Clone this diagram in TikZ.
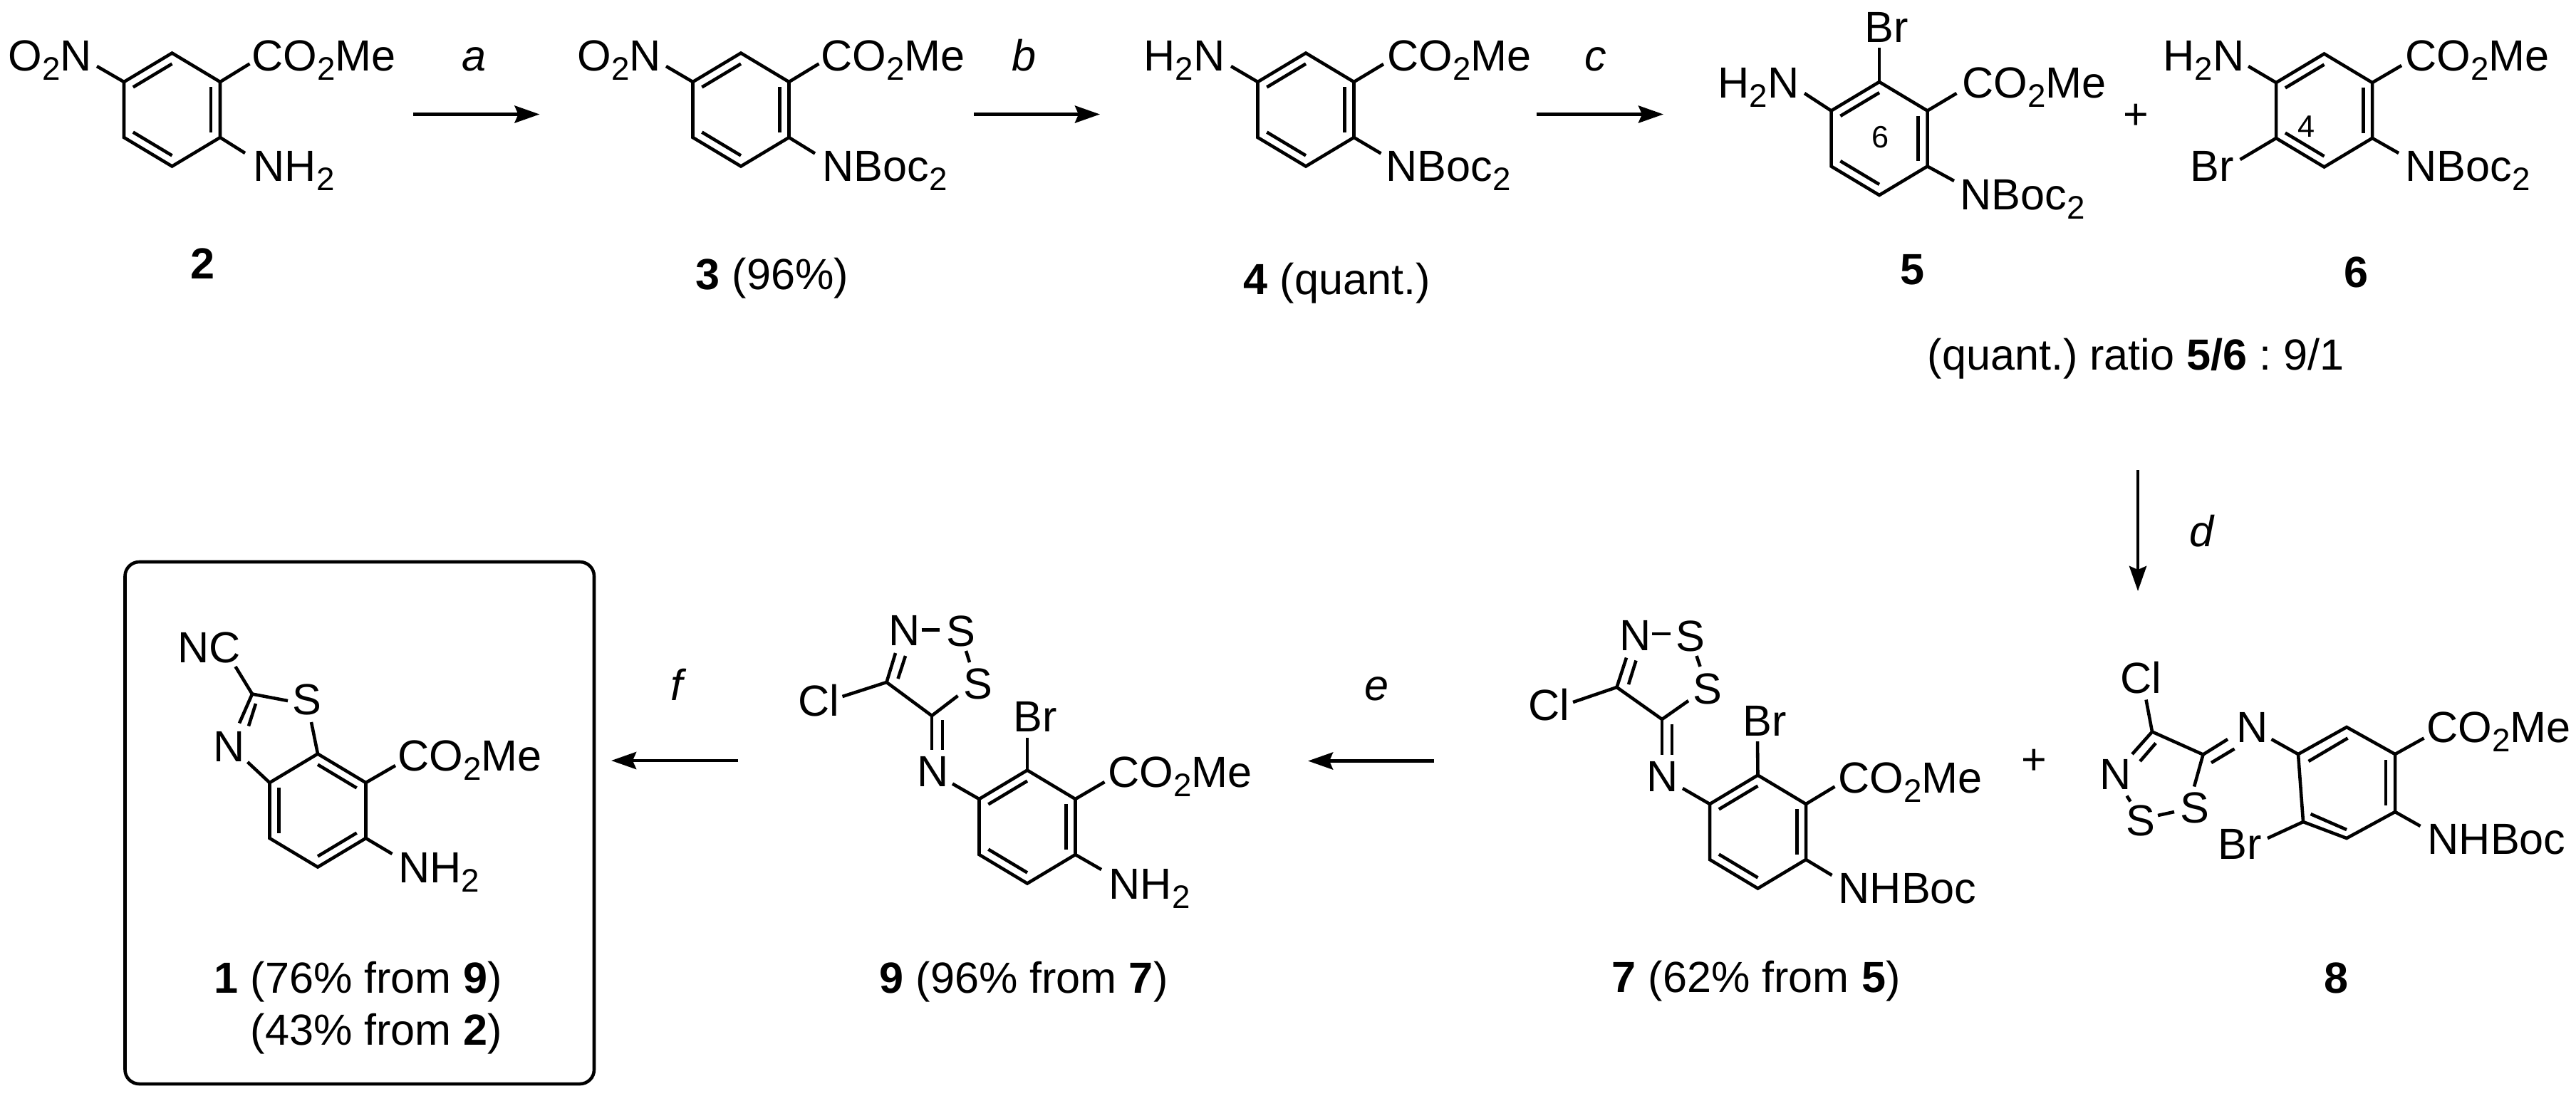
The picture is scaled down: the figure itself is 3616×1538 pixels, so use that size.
\documentclass[tikz,border=0pt]{standalone}
\usepackage{fontspec}
\setmainfont{Liberation Sans}
\usetikzlibrary{calc,arrows.meta}
\frenchspacing

\newcommand{\dn}[1]{\raisebox{-3.7pt}{\fontsize{13}{13}\selectfont #1}}
\tikzset{
    bond/.style={line width=1.3pt},
    atom/.style={anchor=base west,inner sep=0pt,font=\fontsize{17.4}{21}\selectfont},
    tag/.style={inner sep=0pt,font=\fontsize{12.3}{14}\selectfont},
    reacarrow/.style={line width=1.35pt,-{Stealth[length=.35cm,width=.24cm,inset=.05cm]}},
    frame/.style={line width=1.3pt,rounded corners=.2cm},
}
% ring corners r?t r?ur r?lr r?b r?ll r?ul around the centre r?c
\newcommand{\benzene}[2]{
    \coordinate (#1c) at (#2);
    \coordinate (#1t) at ($(#2)+(0,-79.5)$);
    \coordinate (#1ur) at ($(#2)+(67.5,-39)$);
    \coordinate (#1lr) at ($(#2)+(67.5,39)$);
    \coordinate (#1b) at ($(#2)+(0,79.5)$);
    \coordinate (#1ll) at ($(#2)+(-67.5,39)$);
    \coordinate (#1ul) at ($(#2)+(-67.5,-39)$);
    \draw[bond] (#1t) -- (#1ur) -- (#1lr) -- (#1b) -- (#1ll) -- (#1ul) -- cycle;
}
\newcommand{\dbl}[3]{\draw[bond] ($(#1#2)!.19!(#1c)$) -- ($(#1#3)!.19!(#1c)$);}
\newcommand{\kekule}[1]{\dbl{#1}{ul}{t} \dbl{#1}{ur}{lr} \dbl{#1}{ll}{b}}

\begin{document}
\begin{tikzpicture}[x=.01cm,y=-.01cm]
    \useasboundingbox (0,0) rectangle (3616,1538);

    % compound 2
    \benzene{rb}{241.5,154} \kekule{rb}
    \node[atom] (nitroB) at (11,99) {O\dn{2}N};
    \node[atom] (esterB) at (353,99) {CO\dn{2}Me};
    \node[atom] (amineB) at (355,254) {NH\dn{2}};
    \node[atom] (nameB) at (267,391) {\textbf{2}};
    \coordinate (eb1) at (136,93); \draw[bond] (rbul) -- (eb1);
    \coordinate (eb2) at (350.5,89.5); \draw[bond] (rbur) -- (eb2);
    \coordinate (eb3) at (344,215); \draw[bond] (rblr) -- (eb3);

    % compound 3
    \benzene{rc}{1040,154} \kekule{rc}
    \node[atom] (nitroC) at (810,99) {O\dn{2}N};
    \node[atom] (esterC) at (1152,99) {CO\dn{2}Me};
    \node[atom] (bocC) at (1154,254) {NBoc\dn{2}};
    \node[atom] (nameC) at (976,406) {\textbf{3} (96\%)};
    \coordinate (ec1) at (935,93); \draw[bond] (rcul) -- (ec1);
    \coordinate (ec2) at (1149.5,89.5); \draw[bond] (rcur) -- (ec2);
    \coordinate (ec3) at (1144,215.5); \draw[bond] (rclr) -- (ec3);

    % compound 4
    \benzene{rd}{1833,154} \kekule{rd}
    \node[atom] (amineD) at (1605,99) {H\dn{2}N};
    \node[atom] (esterD) at (1947,99) {CO\dn{2}Me};
    \node[atom] (bocD) at (1945,254) {NBoc\dn{2}};
    \node[atom] (nameD) at (1745,413) {\textbf{4} (quant.)};
    \coordinate (ed1) at (1728,93); \draw[bond] (rdul) -- (ed1);
    \coordinate (ed2) at (1942,90); \draw[bond] (rdur) -- (ed2);
    \coordinate (ed3) at (1938.5,215.5); \draw[bond] (rdlr) -- (ed3);

    % compound 5
    \benzene{re}{2638,194.5} \kekule{re}
    \node[atom] (bromE) at (2617,59) {Br};
    \node[atom] (amineE) at (2411,137.5) {H\dn{2}N};
    \node[atom] (esterE) at (2754,137.5) {CO\dn{2}Me};
    \node[atom] (bocE) at (2751,294.5) {NBoc\dn{2}};
    \node[tag] (sixE) at (2639,193) {6};
    \node[atom] (nameE) at (2667,399) {\textbf{5}};
    \coordinate (ee1) at (2638,67); \draw[bond] (ret) -- (ee1);
    \coordinate (ee2) at (2533,131); \draw[bond] (reul) -- (ee2);
    \coordinate (ee3) at (2746.5,131); \draw[bond] (reur) -- (ee3);
    \coordinate (ee4) at (2743,254); \draw[bond] (relr) -- (ee4);

    \node[atom] (plusA) at (2980,181) {+};

    % compound 6
    \benzene{rf}{3262.5,155} \kekule{rf}
    \node[atom] (amineF) at (3036,99) {H\dn{2}N};
    \node[atom] (esterF) at (3375.5,99) {CO\dn{2}Me};
    \node[atom] (bromF) at (3074,254.5) {Br};
    \node[atom] (bocF) at (3376,254.5) {NBoc\dn{2}};
    \node[tag] (fourF) at (3237.5,177.5) {4};
    \node[atom] (nameF) at (3290,403.5) {\textbf{6}};
    \coordinate (ef1) at (3156,93); \draw[bond] (rful) -- (ef1);
    \coordinate (ef2) at (3371,92); \draw[bond] (rfur) -- (ef2);
    \coordinate (ef3) at (3144.5,224); \draw[bond] (rfll) -- (ef3);
    \coordinate (ef4) at (3367,215); \draw[bond] (rflr) -- (ef4);

    \node[atom] (ratio) at (2705,519.5) {(quant.) ratio \textbf{5/6} : 9/1};

    % compound 1 in its box
    \coordinate (boxnw) at (175.5,789);
    \coordinate (boxse) at (834,1522);
    \draw[frame] (boxnw) rectangle (boxse);
    \benzene{ra}{446,1138}
    \dbl{ra}{t}{ur} \dbl{ra}{lr}{b} \dbl{ra}{ul}{ll}
    \node[atom] (cyanA) at (249,930) {NC};
    \node[atom] (sulfA) at (410,1003) {S};
    \node[atom] (nitrA) at (299,1069) {N};
    \node[atom] (esterA) at (558,1082.5) {CO\dn{2}Me};
    \node[atom] (amineA) at (558.5,1239) {NH\dn{2}};
    \node[atom] (nameA) at (300,1394) {\textbf{1} (76\% from \textbf{9})};
    \node[atom] (yieldA) at (351,1467) {(43\% from \textbf{2})};
    \coordinate (ca) at (354,974.5); % carbon between N and S
    \coordinate (ea1) at (330.5,936); \draw[bond] (ca) -- (ea1);
    \coordinate (ea2) at (404,984); \draw[bond] (ca) -- (ea2);
    \coordinate (ea3) at (336,1015.5); \draw[bond] (ca) -- (ea3);
    \coordinate (ea4) at (359,988); \coordinate (ea5) at (349,1019.5); \draw[bond] (ea4) -- (ea5);
    \coordinate (ea6) at (437,1014); \draw[bond] (ea6) -- (rat);
    \coordinate (ea7) at (347.5,1070); \draw[bond] (ea7) -- (raul);
    \coordinate (ea8) at (555,1075); \draw[bond] (raur) -- (ea8);
    \coordinate (ea9) at (550.5,1199); \draw[bond] (ralr) -- (ea9);

    % compound 9
    \benzene{ri}{1442,1161} \kekule{ri}
    \node[atom] (nitrI) at (1247,906) {N};
    \node[atom] (sulfI) at (1328,907) {S};
    \node[atom] (sulgI) at (1352,981) {S};
    \node[atom] (chlorI) at (1120,1005) {Cl};
    \node[atom] (iminI) at (1287,1104.5) {N};
    \node[atom] (bromI) at (1422,1027) {Br};
    \node[atom] (esterI) at (1555,1105.5) {CO\dn{2}Me};
    \node[atom] (amineI) at (1556,1262) {NH\dn{2}};
    \node[atom] (nameI) at (1234,1394) {\textbf{9} (96\% from \textbf{7})};
    \coordinate (ci1) at (1244.5,958);
    \coordinate (ci2) at (1308,1005);
    \draw[bond] (ci1) -- (ci2);
    \coordinate (ei1) at (1182.5,978); \draw[bond] (ci1) -- (ei1);
    \coordinate (ei2) at (1257,917); \draw[bond] (ci1) -- (ei2);
    \coordinate (ei3) at (1260.5,953); \coordinate (ei4) at (1271,921); \draw[bond] (ei3) -- (ei4);
    \coordinate (ei5) at (1293.5,884.5); \coordinate (ei6) at (1319,884.5); \draw[bond] (ei5) -- (ei6);
    \coordinate (ei7) at (1356,914); \coordinate (ei8) at (1361,930); \draw[bond] (ei7) -- (ei8);
    \coordinate (ei9) at (1344.5,977); \draw[bond] (ei9) -- (ci2);
    \coordinate (ei10) at (1308,1053); \draw[bond] (ci2) -- (ei10);
    \coordinate (ei11) at (1323,1011); \coordinate (ei12) at (1323,1053); \draw[bond] (ei11) -- (ei12);
    \coordinate (ei13) at (1337,1100.5); \draw[bond] (ei13) -- (riul);
    \coordinate (ei14) at (1442,1035.5); \draw[bond] (rit) -- (ei14);
    \coordinate (ei15) at (1550.5,1098); \draw[bond] (riur) -- (ei15);
    \coordinate (ei16) at (1546,1221); \draw[bond] (rilr) -- (ei16);

    % compound 7
    \benzene{rg}{2467.5,1168} \kekule{rg}
    \node[atom] (nitrG) at (2273,913) {N};
    \node[atom] (sulfG) at (2352,914) {S};
    \node[atom] (sulgG) at (2376,988) {S};
    \node[atom] (chlorG) at (2145,1011.5) {Cl};
    \node[atom] (iminG) at (2311,1111.5) {N};
    \node[atom] (bromG) at (2446,1033) {Br};
    \node[atom] (esterG) at (2580,1113) {CO\dn{2}Me};
    \node[atom] (bocG) at (2580,1268) {NHBoc};
    \node[atom] (nameG) at (2262,1393.5) {\textbf{7} (62\% from \textbf{5})};
    \coordinate (cg1) at (2269.5,965);
    \coordinate (cg2) at (2333,1010);
    \draw[bond] (cg1) -- (cg2);
    \coordinate (eg1) at (2208,986); \draw[bond] (cg1) -- (eg1);
    \coordinate (eg2) at (2283,923.5); \draw[bond] (cg1) -- (eg2);
    \coordinate (eg3) at (2286,961); \coordinate (eg4) at (2296.5,927.5); \draw[bond] (eg3) -- (eg4);
    \coordinate (eg5) at (2319,890); \coordinate (eg6) at (2345,890); \draw[bond] (eg5) -- (eg6);
    \coordinate (eg7) at (2381.5,921); \coordinate (eg8) at (2386.5,936); \draw[bond] (eg7) -- (eg8);
    \coordinate (eg9) at (2370,984); \draw[bond] (eg9) -- (cg2);
    \coordinate (eg10) at (2333,1059.5); \draw[bond] (cg2) -- (eg10);
    \coordinate (eg11) at (2347,1016.5); \coordinate (eg12) at (2347,1059.5); \draw[bond] (eg11) -- (eg12);
    \coordinate (eg13) at (2362,1107); \draw[bond] (eg13) -- (rgul);
    \coordinate (eg14) at (2467,1041); \draw[bond] (rgt) -- (eg14);
    \coordinate (eg15) at (2575.5,1104.5); \draw[bond] (rgur) -- (eg15);
    \coordinate (eg16) at (2571.5,1229); \draw[bond] (rglr) -- (eg16);

    \node[atom] (plusB) at (2837,1087) {+};

    % compound 8, its ring is drawn by hand
    \coordinate (rht) at (3294,1021);
    \coordinate (rhur) at (3362,1059);
    \coordinate (rhlr) at (3362,1140);
    \coordinate (rhb) at (3294,1177);
    \coordinate (rhll) at (3233,1154);
    \coordinate (rhul) at (3226,1059);
    \draw[bond] (rht) -- (rhur) -- (rhlr) -- (rhb) -- (rhll) -- (rhul) -- cycle;
    \node[atom] (chlorH) at (2976,973.5) {Cl};
    \node[atom] (nitrH) at (2947,1108) {N};
    \node[atom] (sulfH) at (2984,1173) {S};
    \node[atom] (sulgH) at (3059.5,1155.5) {S};
    \node[atom] (iminH) at (3138.5,1042.5) {N};
    \node[atom] (bromH) at (3113,1206) {Br};
    \node[atom] (esterH) at (3406,1042) {CO\dn{2}Me};
    \node[atom] (bocH) at (3407,1199.5) {NHBoc};
    \node[atom] (nameH) at (3262,1394) {\textbf{8}};
    \coordinate (ch1) at (3021,1027.5);
    \coordinate (ch2) at (3092.5,1059.5);
    \draw[bond] (ch1) -- (ch2);
    \coordinate (eh1) at (3012.5,982.5); \draw[bond] (ch1) -- (eh1);
    \coordinate (eh2) at (2993,1059); \draw[bond] (ch1) -- (eh2);
    \coordinate (eh3) at (3026,1043.5); \coordinate (eh4) at (3004,1069); \draw[bond] (eh3) -- (eh4);
    \coordinate (eh5) at (2985.5,1117.5); \coordinate (eh6) at (2990.5,1125.5); \draw[bond] (eh5) -- (eh6);
    \coordinate (eh7) at (3029,1145); \coordinate (eh8) at (3052,1140); \draw[bond] (eh7) -- (eh8);
    \coordinate (eh9) at (3080,1104.5); \draw[bond] (eh9) -- (ch2);
    \coordinate (eh10) at (3127,1038); \draw[bond] (ch2) -- (eh10);
    \coordinate (eh11) at (3104,1071); \coordinate (eh12) at (3136.5,1051.5); \draw[bond] (eh11) -- (eh12);
    \coordinate (eh13) at (3188.5,1038); \draw[bond] (eh13) -- (rhul);
    \coordinate (eh14) at (3402.5,1036.5); \draw[bond] (rhur) -- (eh14);
    \coordinate (eh15) at (3397.5,1160); \draw[bond] (rhlr) -- (eh15);
    \coordinate (eh16) at (3183,1177); \draw[bond] (rhll) -- (eh16);
    \coordinate (eh17) at (3240.5,1069); \coordinate (eh18) at (3295.5,1036.5); \draw[bond] (eh17) -- (eh18);
    \coordinate (eh19) at (3349,1067); \coordinate (eh20) at (3349,1131); \draw[bond] (eh19) -- (eh20);
    \coordinate (eh21) at (3243.5,1143); \coordinate (eh22) at (3294,1165); \draw[bond] (eh21) -- (eh22);

    % reaction arrows
    \coordinate (a1) at (580,160.5); \coordinate (a2) at (757.5,160.5);
    \coordinate (b1) at (1367,160.5); \coordinate (b2) at (1544,160.5);
    \coordinate (c1) at (2156.5,160.5); \coordinate (c2) at (2335,160.5);
    \coordinate (d1) at (3001,660); \coordinate (d2) at (3001,830);
    \coordinate (e1) at (2013,1068.5); \coordinate (e2) at (1836,1068.5);
    \coordinate (f1) at (1036,1068); \coordinate (f2) at (858,1068);
    \draw[reacarrow] (a1) -- (a2);
    \draw[reacarrow] (b1) -- (b2);
    \draw[reacarrow] (c1) -- (c2);
    \draw[reacarrow] (d1) -- (d2);
    \draw[reacarrow] (e1) -- (e2);
    \draw[reacarrow] (f1) -- (f2);
    \node[atom] (stepa) at (648,99) {\textit{a}};
    \node[atom] (stepb) at (1420,99) {\textit{b}};
    \node[atom] (stepc) at (2224,99) {\textit{c}};
    \node[atom] (stepd) at (3073,767) {\textit{d}};
    \node[atom] (stepe) at (1915,983) {\textit{e}};
    \node[atom] (stepf) at (941,983) {\textit{f}};
\end{tikzpicture}
\end{document}
